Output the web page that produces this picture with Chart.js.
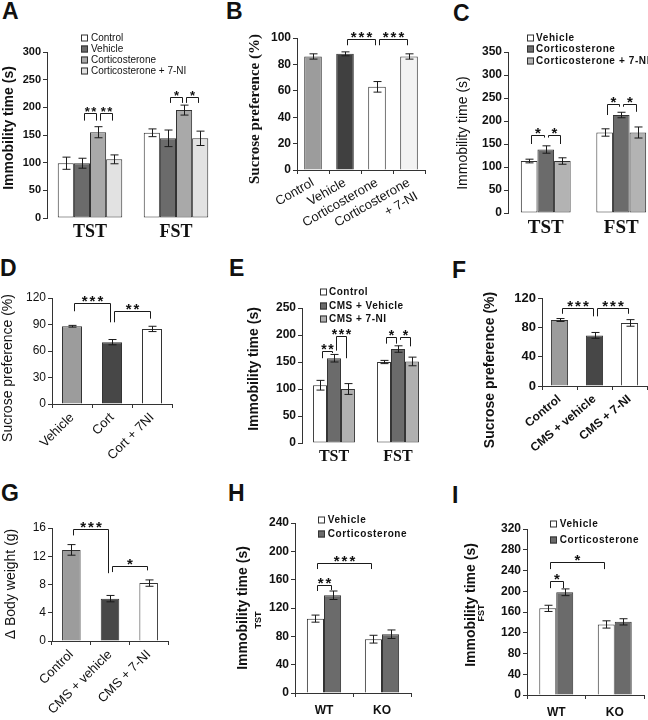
<!DOCTYPE html>
<html>
<head>
<meta charset="utf-8">
<script src="https://cdn.jsdelivr.net/npm/chart.js@4.4.1/dist/chart.umd.min.js"></script>
<style>
  body { margin: 0; width: 648px; height: 720px; overflow: hidden; background: #fff; position: relative; }
  canvas { position: absolute; }
  .tag { position: absolute; font: bold 23px "Liberation Sans", Arial, sans-serif; line-height: 23px; color: #111; }
</style>
</head>
<body>
<div class="tag" style="left:2px;top:0">A</div>
<div class="tag" style="left:226px;top:0">B</div>
<div class="tag" style="left:453px;top:2px">C</div>
<div class="tag" style="left:0;top:257px">D</div>
<div class="tag" style="left:229px;top:257px">E</div>
<div class="tag" style="left:452px;top:259px">F</div>
<div class="tag" style="left:1px;top:482px">G</div>
<div class="tag" style="left:228px;top:482px">H</div>
<div class="tag" style="left:452px;top:484px">I</div>
<script>
const SANS = '"Liberation Sans", Arial, Helvetica, sans-serif';
const SERIF = '"Liberation Serif", "Times New Roman", serif';

// ---- A: immobility, corticosterone +/- 7-NI
const aGroups = ['TST', 'FST'];
const aSeries = ['Control', 'Vehicle', 'Corticosterone', 'Corticosterone + 7-NI'];
const aMean = [[99, 154], [99, 144], [155, 195], [106, 144]];
const aSem = [[11, 7], [9, 15], [10, 9], [8, 13]];
const aTicks = [0, 50, 100, 150, 200, 250, 300];
const aStars = [
  { from: [1, 0], to: [2, 0], top: 189, left: 176, right: 176, text: '**' },
  { from: [2, 0], to: [3, 0], top: 189, left: 176, right: 176, text: '**' },
  { from: [1, 1], to: [2, 1], top: 219, left: 208, right: 208, text: '*' },
  { from: [2, 1], to: [3, 1], top: 219, left: 208, right: 208, text: '*' }
];

// ---- B: sucrose preference
const bGroups = ['Control', 'Vehicle', 'Corticosterone', ['Corticosterone', '+ 7-NI']];
const bMean = [86, 88, 63, 86];
const bSem = [2, 1.5, 4, 2];
const bTicks = [0, 20, 40, 60, 80, 100];
const bStars = [
  { from: [0, 1], to: [0, 2], top: 99.5, left: 94.5, right: 94.5, text: '***' },
  { from: [0, 2], to: [0, 3], top: 99.5, left: 94.5, right: 94.5, text: '***' }
];

// ---- C: immobility
const cGroups = ['TST', 'FST'];
const cSeries = ['Vehicle', 'Corticosterone', 'Corticosterone + 7-NI'];
const cMean = [[113, 175], [138, 213], [113, 175]];
const cSem = [[4, 8], [8, 6], [7, 12]];
const cTicks = [0, 50, 100, 150, 200, 250, 300, 350];
const cStars = [
  { from: [0, 0], to: [1, 0], top: 169, left: 150, right: 164, text: '*' },
  { from: [1, 0], to: [2, 0], top: 169, left: 164, right: 150, text: '*' },
  { from: [0, 1], to: [1, 1], top: 238, left: 213, right: 231, text: '*' },
  { from: [1, 1], to: [2, 1], top: 238, left: 231, right: 220, text: '*' }
];

// ---- D: sucrose preference
const dGroups = ['Vehicle', 'Cort', 'Cort + 7NI'];
const dMean = [88, 70, 85];
const dSem = [1, 3, 3];
const dTicks = [0, 30, 60, 90, 120];
const dStars = [
  { from: [0, 0], to: [0, 1], top: 114, left: 105, right: 92.5, text: '***' },
  { from: [0, 1], to: [0, 2], top: 105.7, left: 92.5, right: 96.6, text: '**' }
];

// ---- E: immobility after CMS
const eGroups = ['TST', 'FST'];
const eSeries = ['Control', 'CMS + Vehicle', 'CMS + 7-NI'];
const eMean = [[107, 150], [157, 174], [100, 151]];
const eSem = [[9, 3], [7, 6], [10, 8]];
const eTicks = [0, 50, 100, 150, 200, 250];
const eStars = [
  { from: [0, 0], to: [1, 0], top: 171, left: 157, right: 166.7, text: '**' },
  { from: [1, 0], to: [2, 0], top: 197.5, left: 171, right: 157, text: '***' },
  { from: [0, 1], to: [1, 1], top: 195.7, left: 184, right: 184, text: '*' },
  { from: [1, 1], to: [2, 1], top: 195.7, left: 191, right: 179, text: '*' }
];

// ---- F: sucrose preference after CMS
const fGroups = ['Control', 'CMS + vehicle', 'CMS + 7-NI'];
const fMean = [90, 69, 86];
const fSem = [2, 4, 4.5];
const fTicks = [0, 40, 80, 120];
const fStars = [
  { from: [0, 0], to: [0, 1], top: 106, left: 98.5, right: 95, text: '***' },
  { from: [0, 1], to: [0, 2], top: 106, left: 95, right: 98.5, text: '***' }
];

// ---- G: body weight gain
const gGroups = ['Control', 'CMS + vehicle', 'CMS + 7-NI'];
const gMean = [12.9, 6.0, 8.2];
const gSem = [0.75, 0.45, 0.45];
const gTicks = [0, 4, 8, 12, 16];
const gStars = [
  { from: [0, 0], to: [0, 1], top: 15.9, left: 14.95, right: 9.6, text: '***' },
  { from: [0, 1], to: [0, 2], top: 10.57, left: 9.76, right: 10, text: '*' }
];

// ---- H: TST in WT / KO
const hGroups = ['WT', 'KO'];
const hSeries = ['Vehicle', 'Corticosterone'];
const hMean = [[105, 76], [138, 83]];
const hSem = [[5, 5.5], [6, 6]];
const hTicks = [0, 40, 80, 120, 160, 200, 240];
const hStars = [
  { from: [0, 0], to: [1, 0], top: 152.6, left: 144, right: 145.5, text: '**' },
  { from: [0, 0], to: [0, 1], top: 183, left: 175, right: 175, text: '***' }
];

// ---- I: FST in WT / KO
const iGroups = ['WT', 'KO'];
const iSeries = ['Vehicle', 'Corticosterone'];
const iMean = [[167, 136], [198, 141]];
const iSem = [[6, 7], [6.5, 6]];
const iTicks = [0, 40, 80, 120, 160, 200, 240, 280, 320];
const iStars = [
  { from: [0, 0], to: [1, 0], top: 219, left: 206, right: 206, text: '*' },
  { from: [0, 0], to: [0, 1], top: 255.6, left: 242.7, right: 242.7, text: '*' }
];

// error bars, significance brackets, y titles, legends
const stats = {
  id: 'stats',
  afterDatasetsDraw(chart, args, o) {
    const ctx = chart.ctx;
    const ys = chart.scales.y;
    ctx.save();
    ctx.strokeStyle = '#1a1a1a';
    ctx.lineWidth = 1;
    chart.data.datasets.forEach((ds, i) => {
      chart.getDatasetMeta(i).data.forEach((bar, j) => {
        const hi = ys.getPixelForValue(ds.data[j] + ds.errors[j]);
        const lo = ys.getPixelForValue(ds.data[j] - ds.errors[j]);
        const x = Math.round(bar.x) + 0.5;
        ctx.beginPath();
        ctx.moveTo(x, hi); ctx.lineTo(x, lo);
        ctx.moveTo(x - 4, hi); ctx.lineTo(x + 4, hi);
        ctx.moveTo(x - 4, lo); ctx.lineTo(x + 4, lo);
        ctx.stroke();
      });
    });
    const sf = o.starFont || [15, 2];
    ctx.font = 'bold ' + sf[0] + 'px ' + SANS;
    ctx.letterSpacing = sf[1] + 'px';
    ctx.textAlign = 'center';
    ctx.textBaseline = 'alphabetic';
    ctx.fillStyle = '#111';
    (o.brackets || []).forEach(b => {
      const xa = Math.round(chart.getDatasetMeta(b.from[0]).data[b.from[1]].x + 2) + 0.5;
      const xb = Math.round(chart.getDatasetMeta(b.to[0]).data[b.to[1]].x - 2) + 0.5;
      const yt = Math.round(ys.getPixelForValue(b.top)) + 0.5;
      ctx.beginPath();
      ctx.moveTo(xa, ys.getPixelForValue(b.left));
      ctx.lineTo(xa, yt);
      ctx.lineTo(xb, yt);
      ctx.lineTo(xb, ys.getPixelForValue(b.right));
      ctx.stroke();
      ctx.fillText(b.text, (xa + xb) / 2 + sf[1] / 2, yt + 2);
    });
    ctx.restore();
  },
  afterDraw(chart, args, o) {
    const ctx = chart.ctx;
    const [ox, oy] = o.origin;
    ctx.save();
    ctx.fillStyle = '#111';
    (o.titles || []).forEach(t => {
      ctx.save();
      ctx.translate(t.x - ox, t.y - oy);
      ctx.rotate(-Math.PI / 2);
      ctx.font = t.font;
      ctx.textAlign = 'center';
      ctx.textBaseline = 'middle';
      ctx.fillText(t.text, 0, 0);
      ctx.restore();
    });
    const L = o.legend;
    if (L) {
      ctx.font = L.weight + ' ' + L.size + 'px ' + SANS;
      ctx.letterSpacing = L.spacing + 'px';
      ctx.textAlign = 'left';
      ctx.textBaseline = 'middle';
      ctx.strokeStyle = '#333';
      ctx.lineWidth = 1;
      chart.data.datasets.forEach((ds, i) => {
        const cy = Math.round(L.y - oy + i * L.row);
        const bx = Math.round(L.x - ox);
        ctx.fillStyle = ds.backgroundColor;
        ctx.fillRect(bx, cy - L.box / 2, L.box, L.box);
        ctx.strokeRect(bx + 0.5, cy - L.box / 2 + 0.5, L.box - 1, L.box - 1);
        ctx.fillStyle = '#111';
        ctx.fillText(ds.label, bx + L.box + L.gap, cy + 0.5);
      });
    }
    ctx.restore();
  }
};

function grouped(series, means, sems, colors, catPct, closed) {
  return series.map((name, i) => ({
    label: name,
    data: means[i],
    errors: sems[i],
    backgroundColor: colors[i],
    borderColor: '#333',
    borderWidth: 1,
    borderSkipped: closed ? false : 'start',
    categoryPercentage: catPct,
    barPercentage: 1
  }));
}

function single(means, sems, colors, barPct) {
  return [{
    label: '',
    data: means,
    errors: sems,
    backgroundColor: colors,
    borderColor: '#333',
    borderWidth: 1,
    categoryPercentage: 1,
    barPercentage: barPct
  }];
}

function makePanel(p) {
  const [bx, by, bw, bh] = p.box;
  const [x0, y0, x1, y1] = p.area;
  const cv = document.createElement('canvas');
  cv.width = bw; cv.height = bh;
  cv.style.left = bx + 'px'; cv.style.top = by + 'px';
  cv.style.width = bw + 'px'; cv.style.height = bh + 'px';
  document.body.appendChild(cv);

  const xAxis = {
    afterFit: s => { s.height = by + bh - y1; },
    border: { display: p.xLine, color: '#333' },
    grid: { display: p.xLine, drawOnChartArea: false, offset: true, tickLength: 4, color: '#333' },
    ticks: {
      color: '#111', font: p.xFont, padding: p.xPad, autoSkip: false,
      minRotation: p.rot, maxRotation: p.rot
    }
  };
  const yAxis = {
    min: 0,
    max: p.ticks[p.ticks.length - 1],
    afterBuildTicks: s => { s.ticks = p.ticks.map(v => ({ value: v })); },
    afterFit: s => { s.width = x0 - bx; },
    border: { display: true, color: '#333' },
    grid: { display: true, drawOnChartArea: false, tickLength: 4, color: '#333' },
    ticks: { color: '#111', font: p.yFont, padding: 2 }
  };

  new Chart(cv, {
    type: 'bar',
    data: { labels: p.labels, datasets: p.datasets },
    options: {
      responsive: false,
      animation: false,
      devicePixelRatio: 1,
      layout: { padding: { left: 0, top: y0 - by, right: bx + bw - x1, bottom: 0 } },
      plugins: {
        legend: { display: false },
        tooltip: { enabled: false },
        stats: {
          origin: [bx, by], brackets: p.brackets, starFont: p.starFont,
          titles: p.titles, legend: p.legend
        }
      },
      scales: { x: xAxis, y: yAxis }
    },
    plugins: [stats]
  });
}

const serifX = size => ({ family: SERIF, size: size, weight: 'bold' });
const sansF = (size, weight) => ({ family: SANS, size: size, weight: weight });

makePanel({
  box: [0, 0, 224, 240], area: [47, 52, 219, 218],
  labels: aGroups, ticks: aTicks, brackets: aStars, starFont: [13, 1.5],
  datasets: grouped(aSeries, aMean, aSem, ['#ffffff', '#6b6b6b', '#a9a9a9', '#e2e2e2'], 0.75, true),
  xLine: false, xFont: serifX(18), xPad: 0, rot: 0, yFont: sansF(11, 'bold'),
  titles: [{ text: 'Immobility time (s)', x: 9, y: 128, font: 'bold 14px ' + SANS }],
  legend: { x: 81, y: 38, row: 11.1, box: 7, gap: 3, size: 10, weight: 'normal', spacing: 0 }
});

makePanel({
  box: [216, 0, 216, 240], area: [297, 38, 425, 170],
  labels: bGroups, ticks: bTicks, brackets: bStars, starFont: [15, 2],
  datasets: single(bMean, bSem, ['#9c9c9c', '#404040', '#ffffff', '#f3f3f3'], 0.55),
  xLine: true, xFont: sansF(13, 'normal'), xPad: 1, rot: 30, yFont: sansF(12, 'bold'),
  titles: [{ text: 'Sucrose preference (%)', x: 255, y: 109, font: 'bold 15px ' + SERIF }]
});

makePanel({
  box: [432, 0, 232, 240], area: [508, 52, 659, 213],
  labels: cGroups, ticks: cTicks, brackets: cStars, starFont: [15, 2],
  datasets: grouped(cSeries, cMean, cSem, ['#ffffff', '#6b6b6b', '#b3b3b3'], 0.66, true),
  xLine: false, xFont: serifX(19), xPad: 0, rot: 0, yFont: sansF(12, 'bold'),
  titles: [{ text: 'Immobility time (s)', x: 463, y: 133, font: '14px ' + SANS }],
  legend: { x: 527, y: 37.7, row: 11.7, box: 7, gap: 2, size: 10, weight: 'bold', spacing: 0.6 }
});

makePanel({
  box: [0, 240, 216, 240], area: [52, 298, 172, 404],
  labels: dGroups, ticks: dTicks, brackets: dStars, starFont: [15, 2],
  datasets: single(dMean, dSem, ['#9c9c9c', '#474747', '#ffffff'], 0.5),
  xLine: true, xFont: sansF(13, 'normal'), xPad: 2, rot: 45, yFont: sansF(12, 'normal'),
  titles: [{ text: 'Sucrose preference (%)', x: 8, y: 368, font: '14px ' + SANS }]
});

makePanel({
  box: [216, 240, 216, 240], area: [302, 308, 430, 443],
  labels: eGroups, ticks: eTicks, brackets: eStars, starFont: [14, 1.5],
  datasets: grouped(eSeries, eMean, eSem, ['#ffffff', '#6b6b6b', '#b0b0b0'], 0.655, true),
  xLine: false, xFont: serifX(16), xPad: 0, rot: 0, yFont: sansF(12, 'bold'),
  titles: [{ text: 'Immobility time (s)', x: 254, y: 369, font: 'bold 14px ' + SANS }],
  legend: { x: 320, y: 292.3, row: 13.3, box: 7, gap: 2, size: 10, weight: 'bold', spacing: 0.5 }
});

makePanel({
  box: [432, 240, 216, 240], area: [542, 298, 647, 386],
  labels: fGroups, ticks: fTicks, brackets: fStars, starFont: [15, 2],
  datasets: single(fMean, fSem, ['#9c9c9c', '#474747', '#ffffff'], 0.49),
  xLine: true, xFont: sansF(12, 'bold'), xPad: 2, rot: 40, yFont: sansF(13, 'bold'),
  titles: [{ text: 'Sucrose preference (%)', x: 490, y: 370, font: 'bold 14px ' + SANS }]
});

makePanel({
  box: [0, 480, 216, 240], area: [52, 528, 168, 641],
  labels: gGroups, ticks: gTicks, brackets: gStars, starFont: [15, 2],
  datasets: single(gMean, gSem, ['#9c9c9c', '#474747', '#ffffff'], 0.48),
  xLine: true, xFont: sansF(13, 'normal'), xPad: 2, rot: 45, yFont: sansF(12, 'normal'),
  titles: [{ text: '\u0394 Body weight (g)', x: 11, y: 584, font: '14px ' + SANS }]
});

makePanel({
  box: [216, 480, 216, 240], area: [295, 523, 411, 693],
  labels: hGroups, ticks: hTicks, brackets: hStars, starFont: [15, 2],
  datasets: grouped(hSeries, hMean, hSem, ['#ffffff', '#6b6b6b'], 0.59, false),
  xLine: true, xFont: sansF(12, 'bold'), xPad: 6, rot: 0, yFont: sansF(12, 'bold'),
  titles: [
    { text: 'Immobility time (s)', x: 243, y: 608, font: 'bold 14px ' + SANS },
    { text: 'TST', x: 259, y: 620, font: 'bold 9px ' + SANS }
  ],
  legend: { x: 318, y: 520, row: 14.3, box: 7, gap: 2.7, size: 10, weight: 'bold', spacing: 0.6 }
});

makePanel({
  box: [432, 480, 216, 240], area: [527, 529, 644, 695],
  labels: iGroups, ticks: iTicks, brackets: iStars, starFont: [15, 2],
  datasets: grouped(iSeries, iMean, iSem, ['#ffffff', '#6b6b6b'], 0.58, false),
  xLine: true, xFont: sansF(12, 'bold'), xPad: 6, rot: 0, yFont: sansF(12, 'bold'),
  titles: [
    { text: 'Immobility time (s)', x: 471, y: 605, font: 'bold 14px ' + SANS },
    { text: 'FST', x: 482, y: 613, font: 'bold 9px ' + SANS }
  ],
  legend: { x: 550, y: 524.3, row: 15.7, box: 7, gap: 2.7, size: 10, weight: 'bold', spacing: 0.6 }
});
</script>
</body>
</html>
